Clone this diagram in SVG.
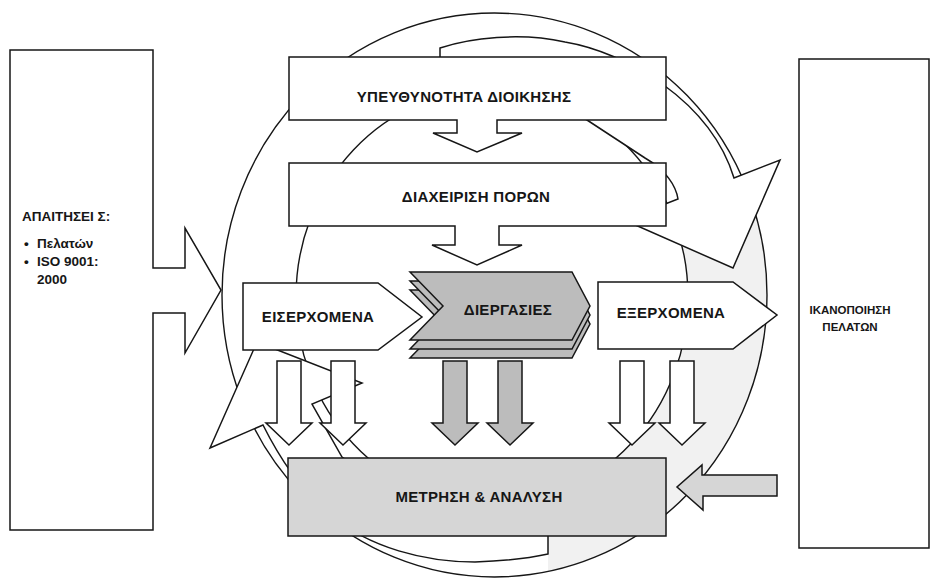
<svg xmlns="http://www.w3.org/2000/svg" width="930" height="578" viewBox="0 0 930 578">
  <style>
    .ln { fill: none; stroke: #161616; stroke-width: 1.4; }
    .wt { fill: #ffffff; stroke: #161616; stroke-width: 1.5; stroke-linejoin: miter; }
    .lt { fill: #d6d6d6; stroke: #161616; stroke-width: 1.5; }
    .md { fill: #bcbcbc; stroke: #161616; stroke-width: 1.5; }
    .ring { fill: #f1f1f1; stroke: none; }
    .lbl { font-family: "Liberation Sans", Arial, sans-serif; font-weight: bold; font-size: 15px; fill: #161616; text-anchor: middle; letter-spacing: 0.3px; }
    .sm { font-family: "Liberation Sans", Arial, sans-serif; font-weight: bold; font-size: 13.5px; fill: #161616; }
    .smc { font-family: "Liberation Sans", Arial, sans-serif; font-weight: bold; font-size: 11.5px; fill: #161616; text-anchor: middle; }
  </style>
  <defs>
    <!-- block arrow pointing down, origin at top centre of the shaft -->
    <path id="down" d="M-12,0 H12 V62 H23 L0,84 L-23,62 H-12 Z"/>
    <!-- one sheet of the process chevron -->
    <path id="sheet" d="M410,272 L572,272 L590,306 L572,340 L410,340 L443,306 Z"/>
  </defs>

  <rect width="930" height="578" fill="#ffffff"/>

  <!-- improvement cycle: ring, circles and the two curved arrows -->
  <g id="cycle">
    <path class="ring" d="M741,175 A272.5,282 0 0 1 548,571.5 L548,496 A196,208 0 0 0 677.5,230 Z"/>
    <ellipse class="ln" cx="494.5" cy="295" rx="272.5" ry="282"/>
    <ellipse class="ln" cx="492" cy="297" rx="196" ry="208"/>
    <path id="arrow-top" class="wt" d="M440,48 C470,38 520,32 565,42 C625,52 710,100 734,178 L780,160 L733,268 L624,220 L678,199 C676,186 666,170 645,158 L587,120 C560,104 500,100 440,106 Z"/>
    <path id="arrow-bottom" class="wt" d="M263,425 C278,455 300,490 330,515 C370,548 425,562 475,562 C505,561 530,558 548,554 L548,496 C470,500 385,488 342,457 L312,404 L362,383 L257,342 L210,448 Z"/>
  </g>

  <!-- requirements box with its arrow -->
  <g id="requirements">
    <path class="wt" d="M10,50 H153 V268 H185 V228 L221,290 L185,353 V313 H153 V530 H10 Z"/>
    <text class="sm" x="22" y="221">ΑΠΑΙΤΗΣΕΙ Σ:</text>
    <text class="sm" x="24" y="248">•</text>
    <text class="sm" x="37" y="248">Πελατών</text>
    <text class="sm" x="24" y="266">•</text>
    <text class="sm" x="37" y="266">ISO 9001:</text>
    <text class="sm" x="37" y="284">2000</text>
  </g>

  <!-- customer satisfaction box -->
  <g id="satisfaction">
    <rect class="wt" x="799" y="59" width="130" height="489"/>
    <text class="smc" x="850" y="314">ΙΚΑΝΟΠΟΙΗΣΗ</text>
    <text class="smc" x="850" y="331">ΠΕΛΑΤΩΝ</text>
  </g>

  <g id="management">
    <path class="wt" d="M289,57 H666 V120 H497 V133 H522 L477,152 L433,133 H457 V120 H289 Z"/>
    <text class="lbl" x="464" y="102">ΥΠΕΥΘΥΝΟΤΗΤΑ ΔΙΟΙΚΗΣΗΣ</text>
  </g>

  <g id="resources">
    <path class="wt" d="M289,163 H666 V226 H499 V245 H522 L477,265 L432,245 H455 V226 H289 Z"/>
    <text class="lbl" x="476" y="202">ΔΙΑΧΕΙΡΙΣΗ ΠΟΡΩΝ</text>
  </g>

  <g id="inputs">
    <path class="wt" d="M243,283 H378 L422,317 L378,350 H243 Z"/>
    <text class="lbl" x="318" y="322">ΕΙΣΕΡΧΟΜΕΝΑ</text>
  </g>

  <g id="processes">
    <use href="#sheet" class="md" transform="translate(0,18)"/>
    <use href="#sheet" class="md" transform="translate(0,9)"/>
    <use href="#sheet" class="md"/>
    <text class="lbl" x="508" y="315">ΔΙΕΡΓΑΣΙΕΣ</text>
  </g>

  <g id="outputs">
    <path class="wt" d="M598,282 H733 L777,315 L733,349 H598 Z"/>
    <text class="lbl" x="671" y="318">ΕΞΕΡΧΟΜΕΝΑ</text>
  </g>

  <g id="measurement">
    <rect class="lt" x="288" y="458" width="378" height="78"/>
    <text class="lbl" x="479" y="502">ΜΕΤΡΗΣΗ &amp; ΑΝΑΛΥΣΗ</text>
  </g>

  <!-- flows into measurement and feedback from the customer -->
  <g id="connectors">
    <use href="#down" class="wt" transform="translate(289,361)"/>
    <use href="#down" class="wt" transform="translate(343,361)"/>
    <use href="#down" class="md" transform="translate(455,361)"/>
    <use href="#down" class="md" transform="translate(510,361)"/>
    <use href="#down" class="wt" transform="translate(632,361)"/>
    <use href="#down" class="wt" transform="translate(682,361)"/>
    <path class="lt" d="M777,475 H702 V465 L677,487 L703,510 V496 H777 Z"/>
  </g>
</svg>
